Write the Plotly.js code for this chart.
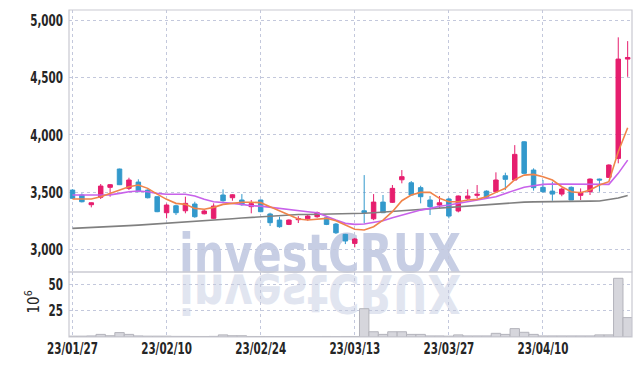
<!DOCTYPE html>
<html>
<head>
<meta charset="utf-8">
<script src="https://cdn.plot.ly/plotly-3.0.1.min.js"></script>
<style>
html,body{margin:0;padding:0;background:#fff;}
#wrap{position:relative;width:642px;height:366px;}
#wm{position:absolute;left:0;top:0;z-index:0;}
#chart{position:absolute;left:0;top:0;width:642px;height:366px;z-index:1;}
</style>
</head>
<body>
<div id="wrap">
<svg id="wm" width="642" height="366" xmlns="http://www.w3.org/2000/svg">
  <text x="179" y="272" font-family="DejaVu Sans Condensed, DejaVu Sans, sans-serif" font-weight="bold" font-size="54" fill="#c7cee4" textLength="282" lengthAdjust="spacingAndGlyphs">investCRUX</text>
  <g transform="translate(0,547) scale(1,-1)">
    <text x="179" y="272" font-family="DejaVu Sans Condensed, DejaVu Sans, sans-serif" font-weight="bold" font-size="54" fill="#e1e5f0" textLength="282" lengthAdjust="spacingAndGlyphs">investCRUX</text>
  </g>
</svg>
<div id="chart"></div>
</div>
<script>
const dates = ["23/01/27","23/01/30","23/01/31","23/02/01","23/02/02","23/02/03","23/02/06","23/02/07","23/02/08","23/02/09",
"23/02/10","23/02/13","23/02/14","23/02/15","23/02/16","23/02/17","23/02/20","23/02/21","23/02/22","23/02/23",
"23/02/24","23/02/27","23/02/28","23/03/02","23/03/03","23/03/06","23/03/07","23/03/08","23/03/09","23/03/10",
"23/03/13","23/03/14","23/03/15","23/03/16","23/03/17","23/03/20","23/03/21","23/03/22","23/03/23","23/03/24",
"23/03/27","23/03/28","23/03/29","23/03/30","23/03/31","23/04/03","23/04/04","23/04/05","23/04/06","23/04/07",
"23/04/10","23/04/11","23/04/12","23/04/13","23/04/14","23/04/17","23/04/18","23/04/19","23/04/20","23/04/21"];

const openP  = [3518,3475,3390,3455,3542,3702,3533,3588,3518,3460,
3320,3381,3337,3396,3311,3271,3475,3451,3431,3373,
3431,3309,3256,3218,3259,3267,3285,3276,3221,3131,
3052,3337,3267,3413,3411,3608,3582,3539,3431,3387,
3440,3335,3446,3472,3509,3504,3643,3606,3940,3693,
3542,3509,3483,3542,3472,3504,3614,3629,3795,4663];
const highP  = [3525,3489,3410,3571,3570,3705,3626,3612,3525,3462,
3400,3390,3460,3416,3345,3402,3524,3482,3483,3431,
3435,3320,3285,3262,3290,3300,3330,3285,3230,3135,
3100,3649,3483,3475,3562,3693,3597,3556,3466,3466,
3450,3470,3524,3562,3515,3673,3670,3911,3945,3708,
3606,3591,3539,3550,3533,3620,3618,3743,4853,4820];
const lowP   = [3440,3410,3367,3440,3460,3562,3518,3500,3445,3325,
3271,3300,3315,3276,3305,3265,3416,3425,3381,3315,
3325,3204,3189,3212,3230,3250,3276,3212,3134,3046,
3017,3227,3255,3317,3405,3577,3470,3402,3300,3358,
3271,3323,3431,3446,3450,3500,3518,3600,3660,3513,
3495,3425,3464,3431,3431,3475,3504,3625,3752,4508];
const closeP = [3446,3416,3407,3553,3565,3565,3606,3504,3451,3329,
3387,3320,3402,3285,3335,3378,3425,3477,3390,3399,
3329,3233,3198,3256,3267,3291,3320,3218,3145,3073,
3090,3320,3413,3320,3533,3635,3475,3460,3373,3407,
3291,3466,3466,3481,3455,3606,3612,3830,3664,3539,
3504,3483,3527,3431,3498,3614,3606,3737,4663,4677];

const maShort = [3440,3437,3440,3460,3489,3518,3547,3562,3533,3483,
3437,3402,3393,3358,3350,3367,3393,3402,3411,3411,
3408,3373,3337,3305,3265,3256,3265,3271,3250,3212,
3175,3169,3198,3256,3329,3425,3475,3498,3498,3446,
3416,3416,3431,3437,3460,3498,3533,3610,3649,3655,
3635,3606,3547,3504,3495,3518,3562,3591,3853,4063];
const maMid = [3475,3475,3475,3475,3476,3489,3504,3510,3504,3489,
3481,3481,3481,3466,3437,3416,3411,3402,3393,3381,
3378,3367,3358,3348,3337,3329,3320,3285,3256,3227,
3218,3221,3233,3250,3276,3300,3323,3343,3358,3376,
3387,3402,3416,3431,3446,3460,3489,3515,3542,3556,
3568,3571,3571,3571,3569,3569,3568,3568,3664,3780];
const maLong = [3183,3186,3190,3194,3198,3202,3207,3212,3217,3221,
3226,3232,3238,3244,3250,3256,3262,3268,3274,3280,
3286,3292,3297,3302,3304,3305,3306,3307,3308,3309,
3311,3315,3320,3326,3332,3338,3344,3350,3356,3362,
3368,3374,3380,3386,3392,3398,3404,3410,3413,3415,
3417,3418,3419,3420,3420,3421,3422,3432,3448,3470];

const volume = [0.8,0.8,1.0,2.5,1.2,4.2,2.5,1.0,0.8,0.8,
0.8,0.6,0.6,0.5,0.5,0.6,2.0,1.2,1.2,0.5,
0.5,0.4,0.4,0.4,0.4,0.4,0.4,0.5,0.4,0.5,
0.5,27,5.0,2.5,5.0,5.0,2.5,2.5,1.0,1.0,
0.8,2.0,1.0,1.0,1.0,3.5,2.5,8.0,4.5,2.5,
1.0,1.0,1.0,1.0,1.0,1.0,2.0,2.0,56,18.5];

const priceTicks = [3000,3500,4000,4500,5000];
const volTicks = [25,50];
const xTicks = [dates[0],dates[10],dates[20],dates[30],dates[40],dates[50]];
const volUnit = '10<sup>6</sup>';

const RED = '#e61e6e', BLUE = '#3399cc';
const FONT = 'DejaVu Sans Condensed, DejaVu Sans, sans-serif';
const TXT = '#262626';
const GRID = '#c3c8dc';
const VDOM = 0.1988;

const traces = [
  {
    type:'candlestick', x:dates, open:openP, high:highP, low:lowP, close:closeP,
    xaxis:'x', yaxis:'y',
    increasing:{line:{color:RED,width:1}, fillcolor:RED},
    decreasing:{line:{color:BLUE,width:1}, fillcolor:BLUE},
    whiskerwidth:0, showlegend:false, hoverinfo:'skip'
  },
  {type:'scatter', mode:'lines', x:dates, y:maLong, xaxis:'x', yaxis:'y', line:{color:'#808080',width:1.6}, showlegend:false, hoverinfo:'skip'},
  {type:'scatter', mode:'lines', x:dates, y:maMid, xaxis:'x', yaxis:'y', line:{color:'#c862ea',width:1.6}, showlegend:false, hoverinfo:'skip'},
  {type:'scatter', mode:'lines', x:dates, y:maShort, xaxis:'x', yaxis:'y', line:{color:'#f0844a',width:1.6}, showlegend:false, hoverinfo:'skip'},
  {type:'bar', x:dates, y:volume, xaxis:'x', yaxis:'y2',
    marker:{color:'#d6d6dc', line:{color:'#b3b3bb', width:1}}, showlegend:false, hoverinfo:'skip'}
];

const tf = {family:FONT, size:16, color:TXT, weight:'bold'};

const layout = {
  width:642, height:366,
  margin:{l:69, r:10, t:10, b:29, pad:0},
  paper_bgcolor:'rgba(0,0,0,0)', plot_bgcolor:'rgba(0,0,0,0)',
  showlegend:false, bargap:0, boxgap:0.32,
  font:{family:FONT, color:TXT, size:16},
  xaxis:{
    type:'category', anchor:'y2', domain:[0,1], range:[-0.37,59.46],
    tickvals:xTicks, ticktext:xTicks, ticks:'', showline:false,
    showgrid:true, gridcolor:GRID, griddash:'dot', gridwidth:1,
    tickfont:tf, rangeslider:{visible:false}, zeroline:false, fixedrange:true
  },
  yaxis:{
    domain:[VDOM,1], range:[2802,5092], tickvals:priceTicks, tickformat:',d',
    ticks:'', ticklabelstandoff:5, showline:false, zeroline:false,
    showgrid:true, gridcolor:GRID, griddash:'dot', gridwidth:1,
    tickfont:tf, fixedrange:true
  },
  yaxis2:{
    domain:[0,VDOM], range:[0,62], tickvals:volTicks, ticks:'', ticklabelstandoff:5,
    showline:false, zeroline:false, anchor:'x',
    showgrid:true, gridcolor:GRID, griddash:'dot', gridwidth:1,
    tickfont:tf, fixedrange:true
  },
  annotations:[
    {text:volUnit, xref:'paper', yref:'paper', x:0, y:VDOM/2, xanchor:'center', yanchor:'middle',
     xshift:-36, yshift:2, textangle:-90, showarrow:false, font:{family:FONT, size:15, color:TXT}}
  ],
  shapes:[
    {type:'rect', xref:'paper', yref:'paper', x0:0, x1:1, y0:VDOM, y1:1, line:{color:'#c9c9d1', width:1.2}, layer:'above'},
    {type:'rect', xref:'paper', yref:'paper', x0:0, x1:1, y0:0, y1:VDOM, line:{color:'#c9c9d1', width:1.2}, layer:'above'}
  ]
};

Plotly.newPlot('chart', traces, layout, {staticPlot:true, displayModeBar:false}).then(function(gd){
  // narrow the tick labels to mimic the condensed face of the original
  gd.querySelectorAll('.xtick text, .ytick text, .y2tick text').forEach(function(t){
    var w = t.getComputedTextLength();
    if (w > 0) {
      t.setAttribute('textLength', (w * 0.72).toFixed(1));
      t.setAttribute('lengthAdjust', 'spacingAndGlyphs');
    }
  });
});
</script>
</body>
</html>
